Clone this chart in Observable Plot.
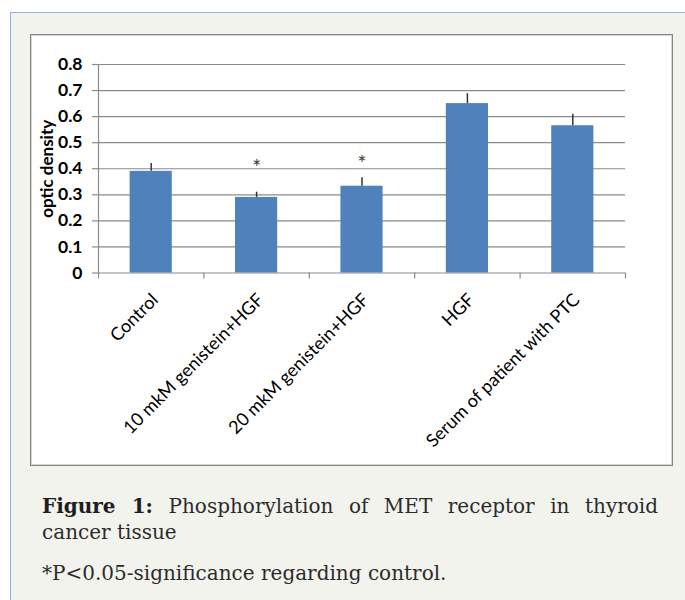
<!DOCTYPE html>
<html>
<head>
<meta charset="utf-8">
<script src="https://cdn.jsdelivr.net/npm/d3@7"></script>
<script src="https://cdn.jsdelivr.net/npm/@observablehq/plot@0.6"></script>
<style>
  html, body { margin: 0; padding: 0; background: #ffffff; }
  body { position: relative; width: 685px; height: 600px; overflow: hidden; font-family: Lato, sans-serif; }
  #panel { position: absolute; left: 10px; top: 12px; width: 676px; height: 588px; background: #f3f3ee;
           border-top: 1px solid #8fb4e3; border-left: 1px solid #8fb4e3; }
  #box { position: absolute; left: 30px; top: 34px; width: 641px; height: 430px; background: #ffffff;
         border: 1px solid #858585; box-shadow: inset 0 0 0 1px #d6d6d6; }
  #box svg { display: block; }
  #caption { position: absolute; left: 42px; top: 493px; width: 616px; font-family: "DejaVu Serif", serif;
             font-size: 20px; line-height: 26px; color: #2b2b2b; }
  #caption .l1 { text-align: justify; text-align-last: justify; white-space: nowrap; }
  #caption b { font-weight: bold; color: #1e1e1e; }
  #note { position: absolute; left: 42px; top: 560px; font-family: "DejaVu Serif", serif;
          font-size: 20px; line-height: 26px; color: #2b2b2b; }
</style>
</head>
<body>
<div id="panel"></div>
<div id="box"></div>
<div id="caption">
  <div class="l1"><b>Figure 1:</b> Phosphorylation of MET receptor in thyroid</div>
  <div>cancer tissue</div>
</div>
<div id="note">*P&lt;0.05-significance regarding control.</div>
<script>
const categories = ["Control", "10 mkM genistein+HGF", "20 mkM genistein+HGF", "HGF", "Serum of patient with PTC"];
const values = [0.39, 0.29, 0.333, 0.65, 0.565];
const errors = [0.03, 0.02, 0.032, 0.038, 0.044];
const stars = ["", "*", "*", "", ""];
const starLevels = [null, 0.42, 0.435, null, null];
const yTicks = [0, 0.1, 0.2, 0.3, 0.4, 0.5, 0.6, 0.7, 0.8];
const yTickLabels = ["0", "0.1", "0.2", "0.3", "0.4", "0.5", "0.6", "0.7", "0.8"];
const yTitle = "optic density";

const data = categories.map((c, i) => ({i, c, v: values[i], e: errors[i], s: stars[i], sy: starLevels[i]}));
const bounds = d3.range(categories.length + 1);
const grid = "#8a8a8a";

const chart = Plot.plot({
  width: 641,
  height: 430,
  marginLeft: 67,
  marginRight: 47,
  marginTop: 29,
  marginBottom: 192.5,
  x: {type: "linear", domain: [0, categories.length], axis: null},
  y: {domain: [0, 0.8], axis: null},
  style: {fontFamily: "Lato, sans-serif", background: "transparent", overflow: "visible", color: "#000"},
  marks: [
    Plot.ruleY(yTicks, {stroke: grid, strokeWidth: 1.2}),
    Plot.ruleX([0], {stroke: grid, strokeWidth: 1.2}),
    Plot.axisY({ticks: yTicks, tickFormat: d => yTickLabels[yTicks.indexOf(d)], tickSize: 6, tickPadding: 10,
                fontSize: 17.5, fontWeight: "bold", stroke: grid, strokeWidth: 1.2, label: null}),
    Plot.axisX({ticks: bounds, tickFormat: () => "", tickSize: 6, stroke: grid, strokeWidth: 1.2, label: null}),
    Plot.rectY(data, {x1: d => d.i + 0.3, x2: d => d.i + 0.7, y: "v", fill: "#4f81bd"}),
    Plot.ruleX(data, {x: d => d.i + 0.5, y1: "v", y2: d => d.v + d.e, stroke: "#333", strokeWidth: 1.5}),
    Plot.text(data.filter(d => d.s), {x: d => d.i + 0.5, y: "sy", text: "s", fontSize: 21, dy: 5, fill: "#3a3a3a"}),
    Plot.text(data, {x: d => d.i + 0.5, frameAnchor: "bottom", text: "c", rotate: -45, textAnchor: "end",
                     dx: 8, dy: 28, fontSize: 18, fill: "#000"}),
    Plot.text([yTitle], {frameAnchor: "left", text: d => d, rotate: -90, textAnchor: "middle", dx: -51,
                         fontSize: 17, fontWeight: "bold", fill: "#000"})
  ]
});
document.getElementById("box").appendChild(chart);
</script>
</body>
</html>
